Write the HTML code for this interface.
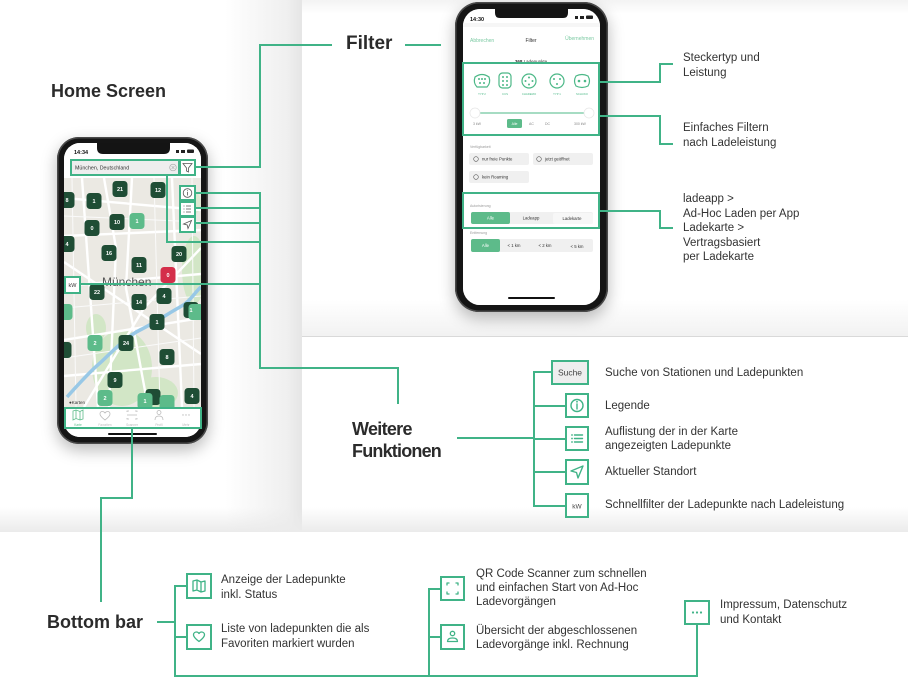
<!DOCTYPE html>
<html><head><meta charset="utf-8">
<style>
*{margin:0;padding:0;box-sizing:border-box}
html,body{width:908px;height:681px;overflow:hidden;background:#fff;font-family:"Liberation Sans",sans-serif;color:#333}
.abs{position:absolute}
.h{position:absolute;font-weight:bold;font-size:18px;line-height:1;color:#2b2b2b;white-space:nowrap}
.d{position:absolute;font-size:11.5px;line-height:14.5px;color:#333;white-space:nowrap}
.d2{line-height:14.3px}
.phone{position:absolute;background:#151515;box-shadow:0 6px 16px rgba(0,0,0,.28), inset 0 0 0 1.5px #4a4a4a}
.scr{position:absolute;overflow:hidden;background:#fff}
</style></head><body>

<!-- panels -->
<div class="abs" style="left:0;top:0;width:302px;height:532px;background:linear-gradient(to right,#fff 0,#fff 225px,#efefef 288px,#e5e5e5 302px)"></div>
<div class="abs" style="left:302px;top:0;width:606px;height:337px;background:linear-gradient(to bottom,#f3f3f3 0,#fff 14px,#fff 300px,#f2f2f2 335px);border-bottom:1px solid #d9d9d9"></div>
<div class="abs" style="left:0;top:507px;width:908px;height:25px;background:linear-gradient(to bottom,rgba(238,238,238,0),#ebebeb)"></div>

<!-- headings -->
<div class="h" style="left:51px;top:82px">Home Screen</div>
<div class="h" style="left:346px;top:34px;font-size:19px">Filter</div>
<div class="h" style="left:352px;top:420px;letter-spacing:-0.7px">Weitere</div>
<div class="h" style="left:352px;top:441.6px;letter-spacing:-0.8px">Funktionen</div>
<div class="h" style="left:47px;top:613px">Bottom bar</div>

<!-- LEFT PHONE -->
<div class="phone" style="left:57px;top:137px;width:151px;height:307px;border-radius:22px"></div>
<div class="scr" style="left:64px;top:143px;width:137px;height:294px;border-radius:16px">
<svg width="137" height="294" font-family="Liberation Sans, sans-serif">
<rect width="137" height="294" fill="#fff"/>
<g transform="translate(0,35)">
  <rect width="137" height="229" fill="#ebe9e3"/>
  <ellipse cx="130" cy="92" rx="12" ry="34" fill="#d2e6c6"/>
  <ellipse cx="58" cy="190" rx="30" ry="38" fill="#d2e6c6"/>
  <ellipse cx="92" cy="215" rx="22" ry="16" fill="#d2e6c6"/>
  <ellipse cx="32" cy="150" rx="10" ry="14" fill="#d2e6c6"/>
  <ellipse cx="128" cy="25" rx="9" ry="12" fill="#dde9d2"/>
  <g stroke="#fff" stroke-width="2.4" fill="none">
    <path d="M0,20 L137,32"/><path d="M0,58 L137,52"/><path d="M18,0 L34,229"/>
    <path d="M68,0 L62,110 L84,229"/><path d="M0,108 L137,96"/><path d="M0,162 L137,140"/>
    <path d="M108,0 L118,229"/><path d="M0,198 L137,186"/><path d="M0,84 L137,176"/>
    <path d="M40,0 L52,70 L45,229"/><path d="M137,70 L80,130 L20,229"/>
  </g>
  <g stroke="#fafafa" stroke-width="1" fill="none">
    <path d="M0,38 L137,44"/><path d="M90,0 L96,229"/><path d="M0,130 L137,118"/><path d="M0,180 L137,160"/><path d="M8,0 L12,229"/><path d="M128,0 L130,229"/>
  </g>
  <path d="M3,219 C20,200 30,190 36,185 S60,160 76,152 S105,135 116,129 S130,115 137,109" stroke="#98c8e6" stroke-width="3.5" fill="none"/>
  <text x="38" y="108" font-size="12" fill="#555">München</text>
  <g font-size="5.5" font-weight="bold" fill="#fff" text-anchor="middle">
    <g fill="#1f4d35">
      <rect x="48.5" y="3" width="15" height="16" rx="3.5"/><rect x="86.5" y="4" width="15" height="16" rx="3.5"/>
      <rect x="-4.5" y="14" width="15" height="16" rx="3.5"/><rect x="22.5" y="15" width="15" height="16" rx="3.5"/>
      <rect x="45.5" y="36" width="15" height="16" rx="3.5"/><rect x="20.5" y="42" width="15" height="16" rx="3.5"/>
      <rect x="-4.5" y="58" width="15" height="16" rx="3.5"/><rect x="37.5" y="67" width="15" height="16" rx="3.5"/>
      <rect x="107.5" y="68" width="15" height="16" rx="3.5"/><rect x="67.5" y="79" width="15" height="16" rx="3.5"/>
      <rect x="25.5" y="106" width="15" height="16" rx="3.5"/><rect x="92.5" y="110" width="15" height="16" rx="3.5"/>
      <rect x="67.5" y="116" width="15" height="16" rx="3.5"/><rect x="119.5" y="124" width="15" height="16" rx="3.5"/>
      <rect x="85.5" y="136" width="15" height="16" rx="3.5"/><rect x="54.5" y="157" width="15" height="16" rx="3.5"/>
      <rect x="-7.5" y="164" width="15" height="16" rx="3.5"/><rect x="95.5" y="171" width="15" height="16" rx="3.5"/>
      <rect x="43.5" y="194" width="15" height="16" rx="3.5"/><rect x="81.5" y="211" width="15" height="16" rx="3.5"/>
      <rect x="120.5" y="210" width="15" height="16" rx="3.5"/>
    </g>
    <g fill="#5dbb8a">
      <rect x="65.5" y="35" width="15" height="16" rx="3.5"/><rect x="124.5" y="126" width="15" height="16" rx="3.5"/>
      <rect x="-6.5" y="126" width="15" height="16" rx="3.5"/><rect x="23.5" y="157" width="15" height="16" rx="3.5"/>
      <rect x="33.5" y="212" width="15" height="16" rx="3.5"/><rect x="73.5" y="215" width="15" height="16" rx="3.5"/>
      <rect x="95.5" y="217" width="15" height="16" rx="3.5"/>
    </g>
    <rect x="96.5" y="89" width="15" height="16" rx="3.5" fill="#d42e4a"/>
    <text x="56" y="13">21</text><text x="94" y="14">12</text><text x="3" y="24">8</text><text x="30" y="25">1</text>
    <text x="53" y="46">10</text><text x="73" y="45">1</text><text x="28" y="52">0</text><text x="3" y="68">4</text>
    <text x="45" y="77">16</text><text x="115" y="78">20</text><text x="75" y="89">11</text><text x="104" y="99">0</text>
    <text x="33" y="116">22</text><text x="100" y="120">4</text><text x="75" y="126">14</text><text x="127" y="134">1</text>
    <text x="93" y="146">1</text><text x="31" y="167">2</text><text x="62" y="167">24</text><text x="103" y="181">8</text>
    <text x="51" y="204">9</text><text x="41" y="222">2</text><text x="81" y="225">1</text><text x="128" y="220">4</text>
  </g>
  <text x="5" y="226" font-size="4.5" fill="#333">●Karten</text>
</g>
<text x="10" y="11" font-size="5.5" font-weight="bold" fill="#111">14:34</text>
<rect x="112" y="7" width="3" height="3" fill="#222"/><rect x="117" y="7" width="4" height="3" fill="#222"/><rect x="123" y="6.5" width="7" height="3.5" rx="1" fill="#222"/>
<path d="M33,0 H106 V5 Q106,11 100,11 H39 Q33,11 33,5 Z" fill="#141414"/>
<rect x="7" y="17" width="108" height="15" fill="#eee"/>
<text x="11" y="26.5" font-size="5.3" fill="#333">München, Deutschland</text>
<circle cx="109" cy="24.5" r="3.3" fill="none" stroke="#aaa" stroke-width=".7"/>
<path d="M107.6,23.1 L110.4,25.9 M110.4,23.1 L107.6,25.9" stroke="#aaa" stroke-width=".6"/>
<rect x="0" y="264" width="137" height="30" fill="#fff"/>
<g fill="none" stroke-width=".8">
  <path d="M9,268 L12,267 L16,268.5 L19,267 V276 L16,277 L12,275.5 L9,277 Z M12,267 V275.5 M16,268.5 V277" stroke="#5dbb8a"/>
  <path d="M41,277 C37,274 36,272.5 36,271 C36,269.5 37,268.5 38.5,268.5 C39.7,268.5 40.5,269.3 41,270 C41.5,269.3 42.3,268.5 43.5,268.5 C45,268.5 46,269.5 46,271 C46,272.5 45,274 41,277 Z" stroke="#bbb"/>
  <path d="M63,269 V268 H65 M71,268 H73 V269 M73,275 V276 H71 M65,276 H63 V275 M63,272 H73" stroke="#bbb"/>
  <circle cx="95" cy="269.5" r="2" stroke="#bbb"/><path d="M91,277 C91,274 93,273 95,273 C97,273 99,274 99,277" stroke="#bbb"/>
</g>
<g fill="#bbb"><circle cx="119" cy="272" r=".7"/><circle cx="122" cy="272" r=".7"/><circle cx="125" cy="272" r=".7"/></g>
<g font-size="3.2" text-anchor="middle" fill="#bbb"><text x="14" y="283" fill="#5dbb8a">Karte</text><text x="41" y="283">Favoriten</text><text x="68" y="283">Scanner</text><text x="95" y="283">Profil</text><text x="122" y="283">Mehr</text></g>
<rect x="44" y="290" width="49" height="2" rx="1" fill="#111"/>
</svg>
</div>

<!-- RIGHT PHONE -->
<div class="phone" style="left:455px;top:2px;width:153px;height:310px;border-radius:24px"></div>
<div class="scr" style="left:463px;top:9px;width:137px;height:296px;border-radius:17px">
<svg width="137" height="296" font-family="Liberation Sans, sans-serif">
<rect width="137" height="296" fill="#fff"/>
<rect x="0" y="14" width="137" height="4" fill="#f6f6f6"/>
<text x="7" y="12" font-size="5.5" font-weight="bold" fill="#111">14:30</text>
<rect x="112" y="7" width="3" height="3" fill="#222"/><rect x="117" y="7" width="4" height="3" fill="#222"/><rect x="123" y="6.5" width="7" height="3.5" rx="1" fill="#222"/>
<path d="M32,0 H105 V4 Q105,9 100,9 H37 Q32,9 32,4 Z" fill="#141414"/>
<text x="7" y="33" font-size="5" fill="#7ccaa3">Abbrechen</text>
<text x="68" y="33" font-size="5" fill="#333" text-anchor="middle">Filter</text>
<text x="131" y="31" font-size="5" fill="#7ccaa3" text-anchor="end">Übernehmen</text>
<text x="68" y="54" font-size="4.5" fill="#333" text-anchor="middle"><tspan font-weight="bold">368</tspan> Ladepunkte</text>
<g fill="none" stroke="#4cb887" stroke-width="1.2">
  <path d="M12,68 Q19,63 26,68 Q28,74 24,78 H14 Q10,74 12,68 Z"/>
  <rect x="36" y="64" width="12" height="15" rx="3.5"/>
  <circle cx="66" cy="72" r="7"/>
  <circle cx="94" cy="72" r="7"/>
  <path d="M113,67 Q119,64 125,67 Q128,72 125,77 Q119,80 113,77 Q110,72 113,67 Z"/>
</g>
<g fill="#4cb887">
  <circle cx="16" cy="70" r="1"/><circle cx="19" cy="70" r="1"/><circle cx="22" cy="70" r="1"/><circle cx="17" cy="74" r="1"/><circle cx="21" cy="74" r="1"/>
  <circle cx="40" cy="68" r="1"/><circle cx="44" cy="68" r="1"/><circle cx="40" cy="72" r="1"/><circle cx="44" cy="72" r="1"/><circle cx="40" cy="76" r="1"/><circle cx="44" cy="76" r="1"/>
  <circle cx="66" cy="68.5" r="1"/><circle cx="62.5" cy="72" r="1"/><circle cx="69.5" cy="72" r="1"/><circle cx="66" cy="75.5" r="1"/>
  <circle cx="91" cy="70" r="1"/><circle cx="97" cy="70" r="1"/><circle cx="94" cy="75" r="1"/>
  <circle cx="116" cy="72" r="1.3"/><circle cx="122" cy="72" r="1.3"/>
</g>
<g font-size="2.8" fill="#4cb887" text-anchor="middle"><text x="19" y="86">TYP 2</text><text x="42" y="86">CCS</text><text x="66" y="86">CHADEMO</text><text x="94" y="86">TYP 1</text><text x="119" y="86">SCHUKO</text></g>
<line x1="12" y1="104" x2="126" y2="104" stroke="#4cb887" stroke-width="1"/>
<circle cx="12" cy="104" r="5" fill="#fff" stroke="#e6e6e6" stroke-width=".7"/>
<circle cx="126" cy="104" r="5" fill="#fff" stroke="#e6e6e6" stroke-width=".7"/>
<g font-size="3.5" fill="#888"><text x="10" y="116">3 kW</text><text x="66" y="116">AC</text><text x="82" y="116">DC</text><text x="111" y="116">300 kW</text></g>
<rect x="44" y="110" width="15" height="9" rx="1.5" fill="#5dbb8a"/>
<text x="51.5" y="116" font-size="3.5" fill="#fff" text-anchor="middle">Alle</text>
<text x="7" y="139" font-size="3.5" fill="#999">Verfügbarkeit</text>
<g fill="#f0f0f0"><rect x="6" y="144" width="60" height="12" rx="2"/><rect x="70" y="144" width="60" height="12" rx="2"/><rect x="6" y="162" width="60" height="12" rx="2"/></g>
<g fill="none" stroke="#555" stroke-width=".6"><circle cx="13" cy="150" r="2.3"/><circle cx="76" cy="150" r="2.3"/><circle cx="13" cy="168" r="2.3"/></g>
<g font-size="4.3" fill="#333"><text x="19" y="151.5">nur freie Punkte</text><text x="82" y="151.5">jetzt geöffnet</text><text x="19" y="169.5">kein Roaming</text></g>
<text x="7" y="198" font-size="3.5" fill="#999">Autorisierung</text>
<rect x="8" y="203" width="122" height="12" rx="2" fill="#f0f0f0"/>
<rect x="90" y="204" width="40" height="11" rx="2" fill="#f7f7f7"/>
<rect x="8" y="203" width="39" height="12" rx="2" fill="#5dbb8a"/>
<g font-size="4.3" text-anchor="middle"><text x="27.5" y="210.5" fill="#fff">Alle</text><text x="68" y="210.5" fill="#333">Ladeapp</text><text x="109" y="211" fill="#333">Ladekarte</text></g>
<text x="7" y="225" font-size="3.5" fill="#999">Entfernung</text>
<rect x="8" y="230" width="122" height="13" rx="2" fill="#f0f0f0"/>
<rect x="8" y="230" width="29" height="13" rx="2" fill="#5dbb8a"/>
<g font-size="4.3" text-anchor="middle"><text x="22.5" y="238" fill="#fff">Alle</text><text x="51" y="238" fill="#333">&lt; 1 km</text><text x="82" y="238" fill="#333">&lt; 2 km</text><text x="114" y="239" fill="#333">&lt; 5 km</text></g>
<rect x="45" y="288" width="47" height="2" rx="1" fill="#111"/>
</svg>
</div>

<!-- OVERLAY LINES & BOXES -->
<svg class="abs" style="left:0;top:0" width="908" height="681" viewBox="0 0 908 681" font-family="Liberation Sans, sans-serif">
<g fill="none" stroke="#40b387" stroke-width="2">
  <!-- filter -->
  <polyline points="195,167 260,167 260,45 332,45"/>
  <line x1="405" y1="45" x2="441" y2="45"/>
  <!-- home screen functions -->
  <polyline points="167,175 167,242 260,242"/>
  <line x1="195" y1="193" x2="260" y2="193"/>
  <line x1="195" y1="208" x2="260" y2="208"/>
  <line x1="195" y1="223" x2="260" y2="223"/>
  <line x1="80" y1="284" x2="260" y2="284"/>
  <polyline points="260,192 260,368 398,368 398,404"/>
  <polyline points="132,429 132,498 101,498 101,602"/>
  <!-- right phone -->
  <polyline points="599,82 660,82 660,64 673,64"/>
  <polyline points="599,116 660,116 660,144 673,144"/>
  <polyline points="599,211 660,211 660,228 673,228"/>
  <rect x="463" y="63" width="136" height="72"/>
  <rect x="463" y="193" width="136" height="35"/>
  <!-- left phone boxes -->
  <rect x="71" y="160" width="108" height="15"/>
  <rect x="65" y="408" width="136" height="20"/>
  <!-- weitere -->
  <line x1="457" y1="438" x2="534" y2="438"/>
  <line x1="534" y1="371" x2="534" y2="507"/>
  <line x1="534" y1="372" x2="552" y2="372"/>
  <line x1="534" y1="406" x2="566" y2="406"/>
  <line x1="534" y1="439" x2="566" y2="439"/>
  <line x1="534" y1="472" x2="566" y2="472"/>
  <line x1="534" y1="506" x2="566" y2="506"/>
  <!-- bottom -->
  <line x1="157" y1="622" x2="175" y2="622"/>
  <polyline points="187,586 175,586 175,676 697,676 697,624"/>
  <line x1="175" y1="637" x2="187" y2="637"/>
  <polyline points="441,589 429,589 429,676"/>
  <line x1="429" y1="637" x2="441" y2="637"/>
</g>
<g fill="#fff" stroke="#40b387" stroke-width="2">
  <rect x="180" y="160" width="15" height="15"/>
  <rect x="180" y="186" width="15" height="14"/>
  <rect x="180" y="202" width="15" height="14"/>
  <rect x="180" y="217" width="15" height="15"/>
  <rect x="65" y="277" width="15" height="16"/>
  <rect x="552" y="361" width="36" height="23" fill="#eee"/>
  <rect x="566" y="394" width="22" height="23"/>
  <rect x="566" y="427" width="22" height="23"/>
  <rect x="566" y="460" width="22" height="24"/>
  <rect x="566" y="494" width="22" height="23"/>
  <rect x="187" y="574" width="24" height="24"/>
  <rect x="187" y="625" width="24" height="24"/>
  <rect x="441" y="577" width="23" height="23"/>
  <rect x="441" y="625" width="23" height="24"/>
  <rect x="685" y="601" width="24" height="23"/>
</g>
<!-- small icons in left phone buttons -->
<g fill="none" stroke="#555" stroke-width=".8">
  <path d="M183,163.5 L192,163.5 L188.5,168 L188.5,172 L186.5,171 L186.5,168 Z"/>
  <circle cx="187.5" cy="193" r="4.3"/><path d="M187.5,192 V195.5"/>
  <path d="M186,206 H191 M186,209 H191 M186,212 H191"/>
  <path d="M191.5,220.5 L183.5,224 L187.2,225 L188,228.5 Z"/>
</g>
<g fill="#555"><circle cx="187.5" cy="190.7" r=".5"/><circle cx="184" cy="206" r=".5"/><circle cx="184" cy="209" r=".5"/><circle cx="184" cy="212" r=".5"/></g>
<text x="72.5" y="287" font-size="5.5" fill="#333" text-anchor="middle">kW</text>
<!-- weitere icons -->
<text x="570" y="375.5" font-size="8.5" fill="#444" text-anchor="middle">Suche</text>
<g fill="none" stroke="#40b387" stroke-width="1.4" stroke-linejoin="round" stroke-linecap="round">
  <circle cx="577" cy="405.5" r="6"/><path d="M577,404 V409"/>
  <path d="M574.5,435 H582.5 M574.5,438.5 H582.5 M574.5,442 H582.5"/>
  <path d="M583,466 L571,471 L576.5,472.5 L578,478 Z"/>
</g>
<g fill="#40b387"><circle cx="577" cy="401.8" r=".9"/><circle cx="572" cy="435" r=".9"/><circle cx="572" cy="438.5" r=".9"/><circle cx="572" cy="442" r=".9"/></g>
<text x="577" y="508.5" font-size="6.5" fill="#444" text-anchor="middle">kW</text>
<!-- bottom icons -->
<g fill="none" stroke="#40b387" stroke-width="1.3" stroke-linejoin="round" stroke-linecap="round">
  <path d="M193,581 L197,580 L201,582 L205,581 V591 L201,592 L197,590 L193,591 Z M197,580 V590 M201,582 V592"/>
  <path d="M199,641.5 C195,638.5 193.5,636.5 193.5,634.8 C193.5,633 195,632 196.5,632 C197.7,632 198.5,632.7 199,633.5 C199.5,632.7 200.3,632 201.5,632 C203,632 204.5,633 204.5,634.8 C204.5,636.5 203,638.5 199,641.5 Z"/>
  <path d="M447,585 V583 H449 M456,583 H458 V585 M458,592 V594 H456 M449,594 H447 V592"/>
  <circle cx="452.5" cy="633.5" r="2.2"/><path d="M447.5,641.5 C447.5,639 449.5,638 452.5,638 C455.5,638 457.5,639 457.5,641.5 Z"/>
</g>
<g fill="#40b387"><circle cx="693" cy="612.5" r="1.1"/><circle cx="697" cy="612.5" r="1.1"/><circle cx="701" cy="612.5" r="1.1"/></g>
</svg>

<!-- descriptions -->
<div class="d" style="left:683px;top:51px">Steckertyp und<br>Leistung</div>
<div class="d" style="left:683px;top:121px">Einfaches Filtern<br>nach Ladeleistung</div>
<div class="d" style="left:683px;top:192px">ladeapp &gt;<br>Ad-Hoc Laden per App<br>Ladekarte &gt;<br>Vertragsbasiert<br>per Ladekarte</div>

<div class="d" style="left:605px;top:365.5px">Suche von Stationen und Ladepunkten</div>
<div class="d" style="left:605px;top:398.8px">Legende</div>
<div class="d" style="left:605px;top:424.8px">Auflistung der in der Karte<br>angezeigten Ladepunkte</div>
<div class="d" style="left:605px;top:464.8px">Aktueller Standort</div>
<div class="d" style="left:605px;top:498.2px">Schnellfilter der Ladepunkte nach Ladeleistung</div>

<div class="d d2" style="left:221px;top:573.3px">Anzeige der Ladepunkte<br>inkl. Status</div>
<div class="d d2" style="left:221px;top:622.3px">Liste von ladepunkten die als<br>Favoriten markiert wurden</div>
<div class="d d2" style="left:476px;top:566.6px">QR Code Scanner zum schnellen<br>und einfachen Start von Ad-Hoc<br>Ladevorgängen</div>
<div class="d d2" style="left:476px;top:623.9px">Übersicht der abgeschlossenen<br>Ladevorgänge inkl. Rechnung</div>
<div class="d d2" style="left:720px;top:598.3px">Impressum, Datenschutz<br>und Kontakt</div>

</body></html>
